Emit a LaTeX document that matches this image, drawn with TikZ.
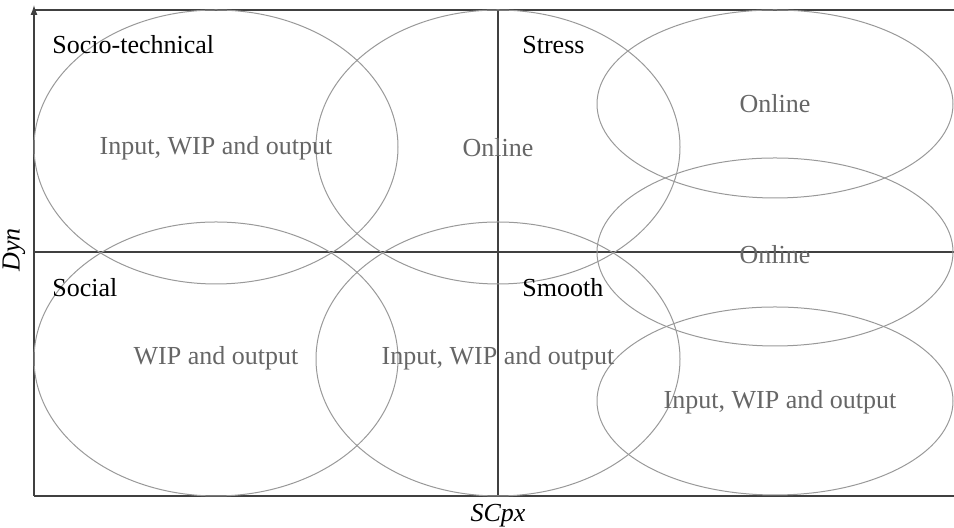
\documentclass[tikz,border=0pt]{standalone}
\usepackage{fontspec}
\setmainfont{Liberation Serif}
\usetikzlibrary{arrows.meta}

\begin{document}
\begin{tikzpicture}[x=0.5pt,y=0.5pt,
  axisline/.style={draw=black!75,line width=0.6pt},
  zone/.style={draw=black!40,line width=0.5pt},
  quadname/.style={anchor=west,inner sep=0pt,font=\fontsize{13}{15}\selectfont},
  flowname/.style={inner sep=0pt,text=black!60,font=\fontsize{13}{15}\selectfont}]
\useasboundingbox (0.000000,0.000000) rectangle (954.000000,528.000000);
% Drawing frame and axes
\coordinate (o) at (34.000000,32.000000);
\coordinate (top) at (34.000000,523.000000);
\coordinate (tl) at (34.000000,518.000000);
\coordinate (tr) at (954.000000,518.000000);
\coordinate (br) at (954.000000,32.000000);
\coordinate (ml) at (34.000000,276.000000);
\coordinate (mr) at (954.000000,276.000000);
\coordinate (mt) at (498.000000,518.000000);
\coordinate (mb) at (498.000000,32.000000);
\draw[axisline,-{Latex[length=5pt,width=3.5pt]}] (o) -- (top);
\draw[axisline] (tl) -- (tr);
\draw[axisline] (o) -- (br);
\draw[axisline] (ml) -- (mr);
\draw[axisline] (mt) -- (mb);
% Axis labels
\node[rotate=90,font=\fontsize{13}{15}\selectfont\itshape] (dyn) at (14.000000,278.000000) {Dyn};
\node[font=\fontsize{13}{15}\selectfont\itshape] (scpx) at (498.000000,12.000000) {SCpx};
% Drawing zones
\draw[zone] (216.000000,381.000000) ellipse (182.000000 and 137.000000);
\draw[zone] (498.000000,381.000000) ellipse (182.000000 and 137.000000);
\draw[zone] (216.000000,169.000000) ellipse (182.000000 and 137.000000);
\draw[zone] (498.000000,169.000000) ellipse (182.000000 and 137.000000);
\draw[zone] (775.000000,424.000000) ellipse (178.000000 and 94.000000);
\draw[zone] (775.000000,276.000000) ellipse (178.000000 and 94.000000);
\draw[zone] (775.000000,127.000000) ellipse (178.000000 and 94.000000);
% Quadrant names
\node[quadname] (sociotech) at (52.000000,483.000000) {Socio-technical};
\node[quadname] (stress) at (522.000000,483.000000) {Stress};
\node[quadname] (social) at (52.000000,240.000000) {Social};
\node[quadname] (smooth) at (522.000000,240.000000) {Smooth};
% Flow names
\node[flowname] (tlflow) at (216.000000,380.000000) {Input, WIP and output};
\node[flowname] (tmflow) at (498.000000,380.000000) {Online};
\node[flowname] (rtflow) at (775.000000,424.000000) {Online};
\node[flowname] (rmflow) at (775.000000,273.000000) {Online};
\node[flowname] (blflow) at (216.000000,170.000000) {WIP and output};
\node[flowname] (bmflow) at (498.000000,170.000000) {Input, WIP and output};
\node[flowname] (rbflow) at (780.000000,126.000000) {Input, WIP and output};
\end{tikzpicture}
\end{document}
